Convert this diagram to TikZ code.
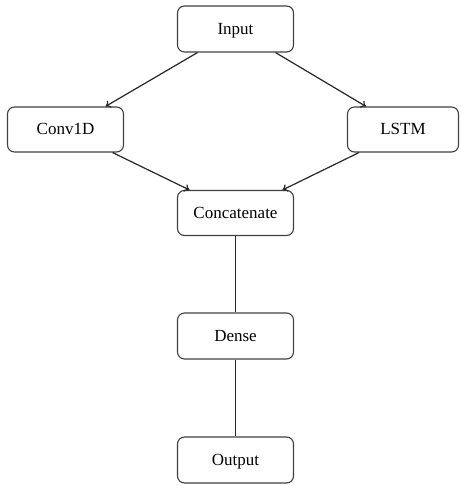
\documentclass[tikz,border=0pt]{standalone}
\usepackage{fontspec}
\setmainfont{Liberation Serif}
\usetikzlibrary{arrows.meta}
\begin{document}
\begin{tikzpicture}[x=1pt,y=-1pt,
  blk/.style={draw=black!75,line width=1.1pt,rounded corners=7pt,inner sep=0pt,text depth=1pt,font=\fontsize{17}{20}\selectfont},
  conn/.style={line width=1.2pt,black!85},
  arr/.style={conn,-{To[length=5pt,width=8pt]}}]
\useasboundingbox (0,0) rectangle (460,486);
\node[blk,minimum width=116pt,minimum height=46pt] (in) at (235.5,29) {Input};
\node[blk,minimum width=116pt,minimum height=45pt] (cv) at (65.5,129.5) {Conv1D};
\node[blk,minimum width=111pt,minimum height=45pt] (ls) at (403,129.5) {LSTM};
\node[blk,minimum width=116pt,minimum height=45pt] (cc) at (235.5,213) {Concatenate};
\node[blk,minimum width=116pt,minimum height=46pt] (de) at (235.5,336) {Dense};
\node[blk,minimum width=116pt,minimum height=46pt] (ou) at (235.5,460) {Output};
\draw[arr] ([xshift=-38pt]in.south) -- ([xshift=40pt]cv.north);
\draw[arr] ([xshift=40pt]in.south) -- ([xshift=-37pt]ls.north);
\draw[arr] ([xshift=47pt]cv.south) -- ([xshift=-46pt]cc.north);
\draw[arr] ([xshift=-44pt]ls.south) -- ([xshift=47pt]cc.north);
\draw[conn] (cc.south) -- (de.north);
\draw[conn] (de.south) -- (ou.north);
\end{tikzpicture}
\end{document}
